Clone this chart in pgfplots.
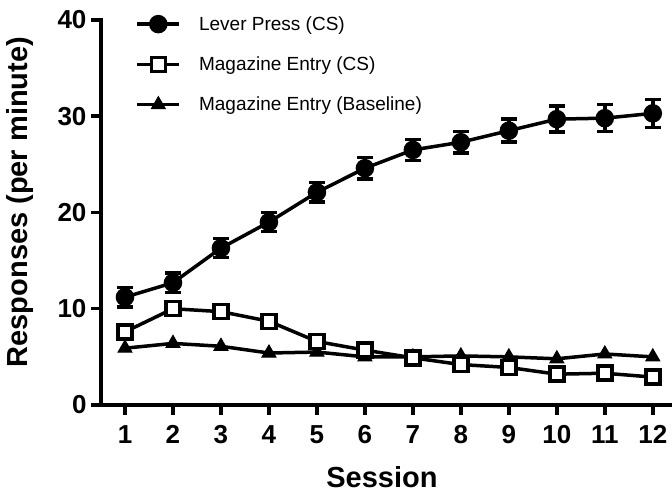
\documentclass[border=0pt]{standalone}
\usepackage{fontspec}
\setmainfont{Liberation Sans}
\usepackage{pgfplots}
\pgfplotsset{compat=1.18}

\begin{document}
\begin{tikzpicture}
\begin{axis}[
  width=571pt, height=385pt, scale only axis,
  xmin=0.5, xmax=12.4, ymin=0, ymax=40,
  axis lines*=left,
  axis line style={line width=3.5pt, line cap=rect},
  tick align=outside, tick pos=left,
  major tick length=10pt,
  major tick style={line width=3.5pt, black},
  xtick={1,2,3,4,5,6,7,8,9,10,11,12},
  ytick={0,10,20,30,40},
  /pgf/number format/assume math mode=true,
  tick label style={font=\fontsize{26}{29}\selectfont\bfseries},
  xticklabel style={yshift=-7pt},
  yticklabel style={xshift=-1pt},
  xlabel={Session},
  ylabel={Responses (per minute)},
  label style={font=\fontsize{29}{33}\selectfont\bfseries},
  xlabel style={at={(axis description cs:0.492,-0.187)}, anchor=center},
  ylabel style={at={(axis description cs:-0.142,0.527)}, anchor=center},
  clip=false,
  reverse legend,
  legend style={at={(axis description cs:0.055,1.02)}, anchor=north west,
    draw=none, fill=none, font=\fontsize{19}{22}\selectfont,
    row sep=21pt,
    /tikz/every odd column/.append style={column sep=16pt}},
  legend cell align=left,
  legend image code/.code={
    \draw[mark repeat=2, mark phase=2, #1] plot coordinates {(0pt,0pt) (21pt,0pt) (42pt,0pt)};
  },
  every axis plot/.append style={black, line width=3.5pt},
]

% baseline
\addplot[mark=triangle*, mark size=8pt, mark options={fill=black, line width=1pt}]
  coordinates {
    (1,5.9) (2,6.4) (3,6.1) (4,5.4) (5,5.5) (6,5.0)
    (7,5.0) (8,5.1) (9,5.0) (10,4.8) (11,5.3) (12,5.0)
  };
\addlegendentry{Magazine Entry (Baseline)}

% magazine CS
\addplot[mark=square*, mark size=7pt, mark options={fill=white, line width=3.5pt}]
  coordinates {
    (1,7.6) (2,10.0) (3,9.7) (4,8.7) (5,6.6) (6,5.7)
    (7,4.9) (8,4.2) (9,3.9) (10,3.2) (11,3.3) (12,2.9)
  };
\addlegendentry{Magazine Entry (CS)}

% lever press
\addplot[mark=*, mark size=7.5pt, mark options={fill=black},
  error bars/.cd, y dir=both, y explicit,
  error bar style={line width=3.5pt},
  error mark options={rotate=90, mark size=8pt, line width=3.5pt}]
  coordinates {
    (1,11.2) +- (0,1.0)
    (2,12.7) +- (0,1.0)
    (3,16.3) +- (0,1.0)
    (4,19.0) +- (0,1.0)
    (5,22.1) +- (0,1.0)
    (6,24.6) +- (0,1.1)
    (7,26.5) +- (0,1.1)
    (8,27.3) +- (0,1.1)
    (9,28.5) +- (0,1.2)
    (10,29.7) +- (0,1.35)
    (11,29.8) +- (0,1.4)
    (12,30.3) +- (0,1.45)
  };
\addlegendentry{Lever Press (CS)}

\end{axis}
\pgfresetboundingbox
\path[use as bounding box] ([xshift=-101pt,yshift=-97pt]current axis.south west) rectangle ++(672pt,502pt);
\end{tikzpicture}
\end{document}
